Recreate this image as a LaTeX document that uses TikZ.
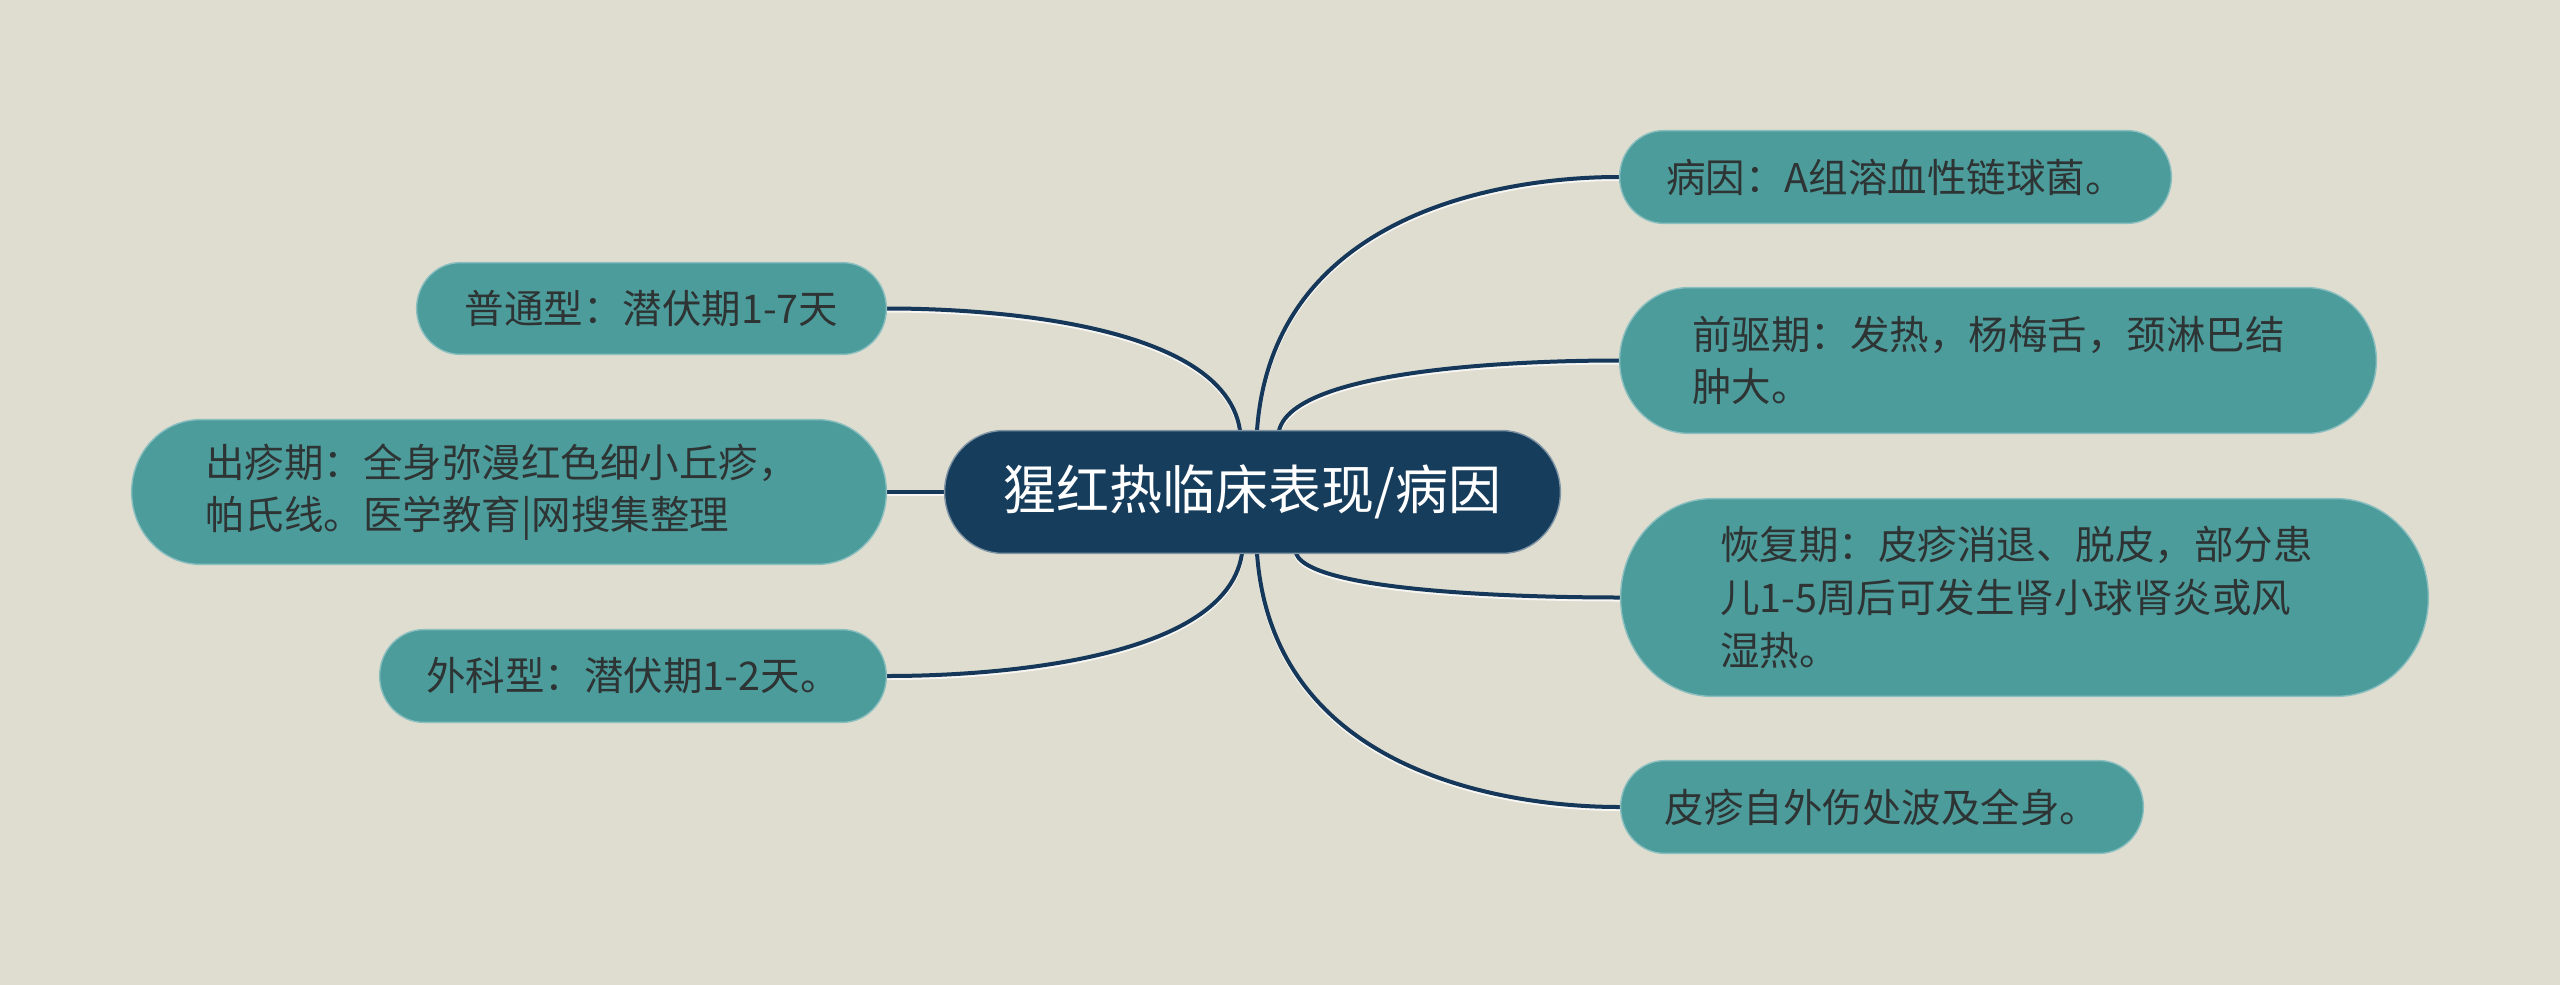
\documentclass[tikz,border=0pt]{standalone}
\usepackage{fontspec}
\newfontfamily\cjkchild{Noto Sans CJK SC}
\newfontfamily\cjkhub{Noto Sans CJK SC}
\usetikzlibrary{calc}
\pgfdeclarelayer{back}
\pgfdeclarelayer{conn}
\pgfdeclarelayer{pill}
\pgfsetlayers{back,conn,pill,main}
\definecolor{bgc}{HTML}{DEDDCF}
\definecolor{tealc}{HTML}{4D9C9C}
\definecolor{hubc}{HTML}{173D5C}
\definecolor{navy}{HTML}{15385A}
\definecolor{txt}{HTML}{2E3333}
\newcommand\mmpill[3]{%
  \path[#2] let \p1=(#1.south west), \p2=(#1.north east),
      \n1={(\y2-\y1)/2}, \n2={#3*(\y2-\y1)/2} in
    (\x1+\n2*1pt,\y1) -- (\x2-\n2*1pt,\y1)
    arc[start angle=-90,end angle=90,x radius={\n2*1pt},y radius={\n1*1pt}]
    -- (\x1+\n2*1pt,\y2)
    arc[start angle=90,end angle=270,x radius={\n2*1pt},y radius={\n1*1pt}]
    -- cycle;}
\newcommand\mmlink[2]{%
  \draw[connsh] (#1) .. controls ($(#1 |- #2)!0.05!(#2)$) and ($(#1 |- #2)!0.9!(#2)$) .. (#2);
  \draw[conn] (#1) .. controls ($(#1 |- #2)!0.05!(#2)$) and ($(#1 |- #2)!0.9!(#2)$) .. (#2);}
\begin{document}
\begin{tikzpicture}[x=0.5pt,y=-0.5pt,
  child/.style={inner sep=0pt, text=txt, font=\cjkchild\fontsize{19.75pt}{26.3pt}\selectfont},
  hub/.style={inner sep=0pt, text=white, font=\cjkhub\fontsize{26.5pt}{32pt}\selectfont,
    minimum width=307.5pt, minimum height=61pt},
  conn/.style={draw=navy, line width=2pt},
  connsh/.style={draw=white!75!bgc, line width=2pt, transform canvas={yshift=-1pt}},
  tealpill/.style={fill=tealc, draw=tealc!65!white, line width=0.7pt},
  hubpill/.style={fill=hubc, draw=hubc!55!white, line width=0.7pt}]
\begin{pgfonlayer}{back}
  \fill[bgc] (0,0) rectangle (2560,985);
\end{pgfonlayer}
\useasboundingbox (0,0) rectangle (2560,985);

\node[hub] (C) at (1252.5,492) {猩红热临床表现/病因};

\node[child, minimum width=234.5pt, minimum height=45.5pt] (L1) at (651.5,308.5) {普通型：潜伏期1-7天};
\node[child, minimum width=377pt, minimum height=72pt, text width=304pt, align=left] (L2) at (509,492)
  {出疹期：全身弥漫红色细小丘疹，\\帕氏线。医学教育|网搜集整理};
\node[child, minimum width=253pt, minimum height=46pt] (L3) at (633,676) {外科型：潜伏期1-2天。};

\node[child, minimum width=275.5pt, minimum height=46pt] (R1) at (1895.5,177) {病因：A组溶血性链球菌。};
\node[child, minimum width=378pt, minimum height=72.5pt, text width=306pt, align=left] (R2) at (1998,360.5)
  {前驱期：发热，杨梅舌，颈淋巴结\\肿大。};
\node[child, minimum width=403.5pt, minimum height=98.5pt, text width=304.5pt, align=left] (R3) at (2024.5,597.5)
  {恢复期：皮疹消退、脱皮，部分患\\儿1-5周后可发生肾小球肾炎或风\\湿热。};
\node[child, minimum width=261pt, minimum height=46pt] (R4) at (1882,807) {皮疹自外伤处波及全身。};

\begin{pgfonlayer}{pill}
  \mmpill{C}{hubpill}{0.95}
  \mmpill{L1}{tealpill}{0.95}
  \mmpill{L2}{tealpill}{0.95}
  \mmpill{L3}{tealpill}{0.95}
  \mmpill{R1}{tealpill}{0.95}
  \mmpill{R2}{tealpill}{0.95}
  \mmpill{R3}{tealpill}{0.93}
  \mmpill{R4}{tealpill}{0.95}
\end{pgfonlayer}

\coordinate (sL1) at ($(C.north)+(-12.5,0)$);
\coordinate (sR1) at ($(C.north)+(4.5,0)$);
\coordinate (sR2) at ($(C.north)+(26.5,0)$);
\coordinate (sL3) at ($(C.south)+(-10.5,0)$);
\coordinate (sR4) at ($(C.south)+(4.5,0)$);
\coordinate (sR3) at ($(C.south)+(43.5,0)$);

\begin{pgfonlayer}{conn}
  \mmlink{sL1}{L1.east}
  \mmlink{sR1}{R1.west}
  \mmlink{sR2}{R2.west}
  \mmlink{sL3}{L3.east}
  \mmlink{sR4}{R4.west}
  \mmlink{sR3}{R3.west}
  \draw[connsh] (C.west) -- (L2.east);
  \draw[conn] (C.west) -- (L2.east);
\end{pgfonlayer}
\end{tikzpicture}
\end{document}
